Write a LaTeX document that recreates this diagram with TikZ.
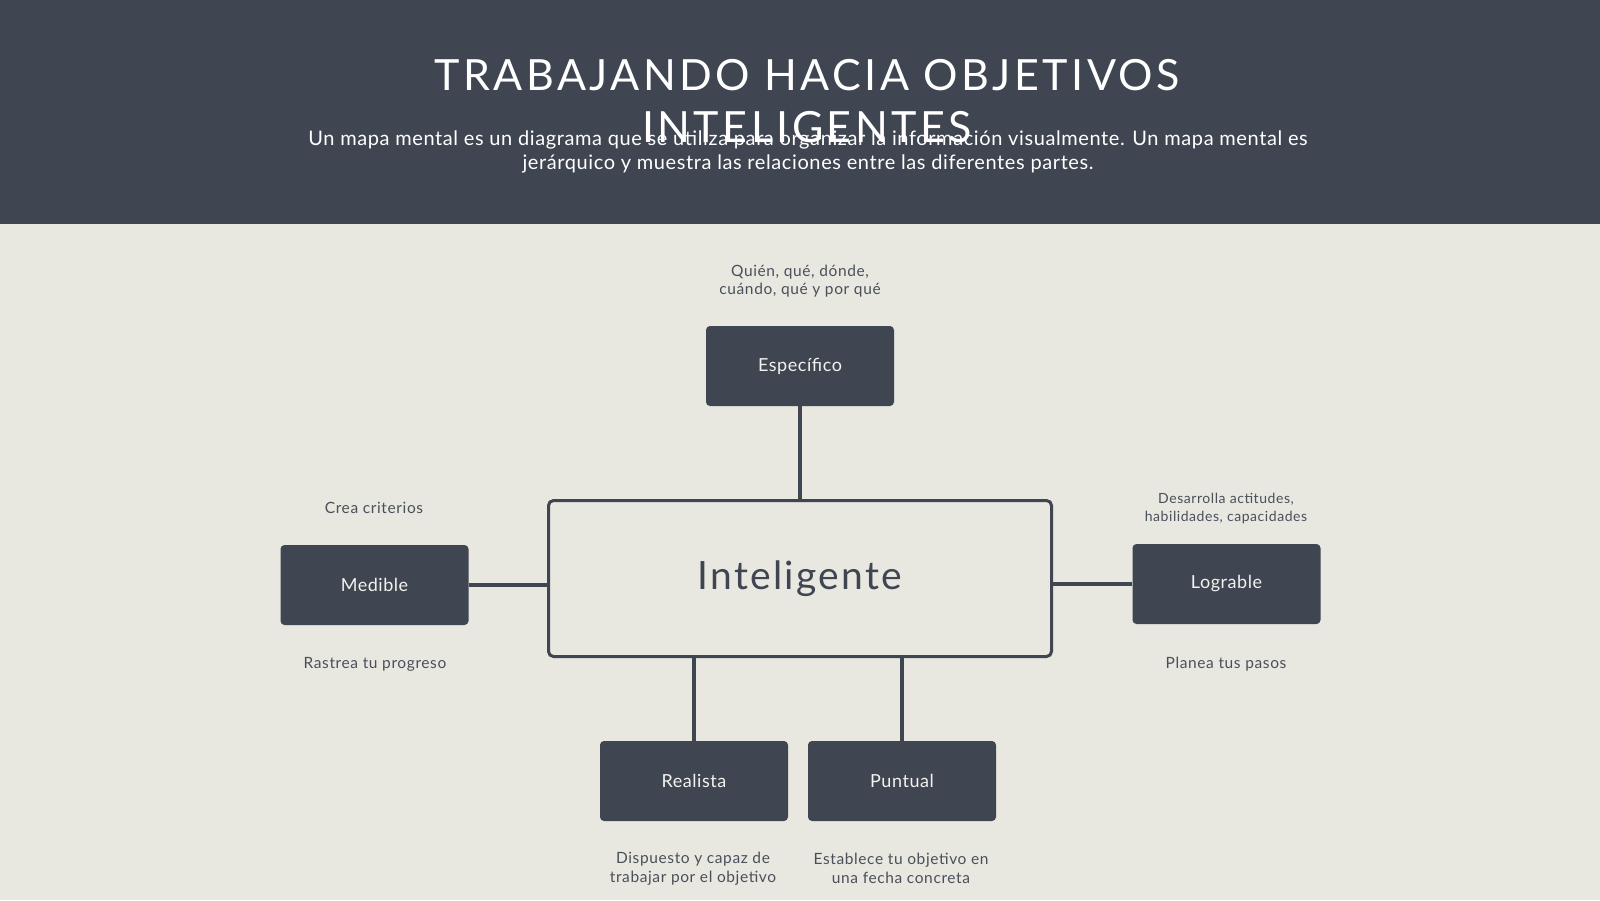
\documentclass[tikz,border=0pt]{standalone}
\usepackage{fontspec}
\setmainfont{Lato}
\definecolor{hdr}{HTML}{3F4551}
\definecolor{bg}{HTML}{E8E7E0}
\definecolor{boxc}{HTML}{3F4551}
\definecolor{lbl}{HTML}{4A4F5A}
\definecolor{wtxt}{HTML}{F2F2EF}
\tikzset{
  darkbox/.style={fill=boxc, rounded corners=4pt, minimum width=188pt, minimum height=80pt, inner sep=0pt,
    text=wtxt, font={\fontsize{18}{21}\selectfont\addfontfeatures{LetterSpace=3}}},
  centralbox/.style={draw=boxc, line width=3pt, fill=bg, rounded corners=5pt, minimum width=503pt, minimum height=156pt,
    inner sep=0pt, text=boxc, font={\fontsize{39}{45}\selectfont\addfontfeatures{LetterSpace=6}}},
  note/.style={text=lbl, align=center, inner sep=0pt, font={\fontsize{15.5}{18.4}\selectfont\addfontfeatures{LetterSpace=4}}},
  smallnote/.style={text=lbl, align=center, inner sep=0pt, font={\fontsize{14}{17.2}\selectfont\addfontfeatures{LetterSpace=4}}},
  conn/.style={draw=boxc, line width=3.2pt}
}
\begin{document}
\begin{tikzpicture}[x=1pt,y=-1pt]
\useasboundingbox (0,0) rectangle (1600,900);
\fill[bg] (0,0) rectangle (1600,900);
\fill[hdr] (0,0) rectangle (1600,223.5);
% header
\node[text=white, align=center, inner sep=0pt, font={\fontsize{43}{52}\selectfont\addfontfeatures{LetterSpace=8}}] (title) at (807,101)
  {TRABAJANDO HACIA OBJETIVOS\\INTELIGENTES};
\node[text=white, align=center, inner sep=0pt, font={\fontsize{20}{24}\selectfont\addfontfeatures{LetterSpace=3}}] (sub) at (808,151.5)
  {Un mapa mental es un diagrama que se utiliza para organizar la información visualmente. Un mapa mental es\\jerárquico y muestra las relaciones entre las diferentes partes.};
% central
\node[centralbox] (c) at (800,578.5) {Inteligente};
% boxes
\node[darkbox] (esp) at (800,366) {Específico};
\node[darkbox] (med) at (374.5,585) {Medible};
\node[darkbox] (log) at (1226.5,584) {Lograble};
\node[darkbox] (rea) at (694,781) {Realista};
\node[darkbox] (pun) at (902,781) {Puntual};
% connectors
\draw[conn] (esp.south) -- (c.north);
\draw[conn] (med.east) -- (med.east -| c.west);
\draw[conn] (log.west) -- (log.west -| c.east);
\draw[conn] (rea.north) -- (rea.north |- c.south);
\draw[conn] (pun.north) -- (pun.north |- c.south);
% notes
\node[note] (nesp) at (800,281) {Quién, qué, dónde,\\cuándo, qué y por qué};
\node[note] (nmed1) at (374,508) {Crea criterios};
\node[note] (nmed2) at (375,664) {Rastrea tu progreso};
\node[smallnote] (nlog1) at (1226,508.5) {Desarrolla actitudes,\\habilidades, capacidades};
\node[note] (nlog2) at (1226,664) {Planea tus pasos};
\node[note] (nrea) at (693,868.5) {Dispuesto y capaz de\\trabajar por el objetivo};
\node[note] (npun) at (901,868.5) {Establece tu objetivo en\\una fecha concreta};
\end{tikzpicture}
\end{document}
